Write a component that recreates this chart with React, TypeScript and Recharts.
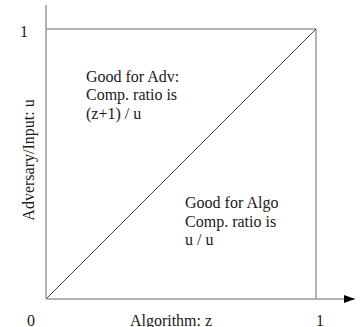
import React from 'react';
import { ComposedChart, Line, XAxis, YAxis, ReferenceLine, ReferenceDot } from 'recharts';

const zValues = [0, 1];
const uValues = [0, 1];
const xTicks = [0, 1];
const yTicks = [1];
const xDomainMax = 1.1444;
const yDomainMax = 1.0889;
const advLines = ['Good for Adv:', 'Comp. ratio is', '(z+1) / u'];
const algoLines = ['Good for Algo', 'Comp. ratio is', 'u / u'];
const advAnchor = { z: 0.148, u: 0.804 };
const algoAnchor = { z: 0.515, u: 0.337 };

const data = zValues.map((z, i) => ({ z, u: uValues[i] }));

const FONT = '"Liberation Serif", "Times New Roman", serif';
const AXIS = '#9a9a9a';
const TEXT = '#1a1a1a';

const XTick = (props: any) => {
  const { x, y, payload } = props;
  const isZero = payload.value === 0;
  return (
    <text x={isZero ? x - 15 : x + 4} y={y + 19} textAnchor="middle" fontFamily={FONT} fontSize={16} fill={TEXT}>
      {payload.value}
    </text>
  );
};

const YTick = (props: any) => {
  const { x, y, payload } = props;
  return (
    <text x={x - 14} y={y + 8} textAnchor="middle" fontFamily={FONT} fontSize={16} fill={TEXT}>
      {payload.value}
    </text>
  );
};

const multiLine = (lines: string[], spacing: number) => (props: any) => {
  const { viewBox } = props;
  return (
    <text fontFamily={FONT} fontSize={16} fill={TEXT}>
      {lines.map((l, i) => (
        <tspan key={i} x={viewBox.x} y={viewBox.y + i * spacing}>{l}</tspan>
      ))}
    </text>
  );
};

const Arrow = (props: any) => {
  const { cx, cy } = props;
  return <polygon points={`${cx},${cy} ${cx - 11},${cy - 4} ${cx - 11},${cy + 4}`} fill="#000" />;
};

export default function App() {
  return (
    <div style={{ position: 'absolute', left: 0, top: 0, background: '#fff' }}>
      <ComposedChart width={360} height={327} data={data} margin={{ top: 5, right: 5, bottom: 0, left: 0 }}>
        <XAxis
          dataKey="z"
          type="number"
          domain={[0, xDomainMax]}
          ticks={xTicks}
          tickLine={false}
          axisLine={{ stroke: AXIS, strokeWidth: 1.5 }}
          tick={<XTick />}
          height={28}
          label={{
            content: () => (
              <text x={171} y={326} textAnchor="middle" fontFamily={FONT} fontSize={16} fill={TEXT}>Algorithm: z</text>
            ),
          }}
        />
        <YAxis
          type="number"
          domain={[0, yDomainMax]}
          ticks={yTicks}
          tickLine={false}
          axisLine={{ stroke: AXIS, strokeWidth: 1.5 }}
          tick={<YTick />}
          width={46}
          label={{
            content: () => (
              <text x={34} y={160} transform="rotate(-90, 34, 160)" textAnchor="middle" fontFamily={FONT} fontSize={16} fill={TEXT}>Adversary/Input: u</text>
            ),
          }}
        />
        <ReferenceLine segment={[{ x: 0, y: 1 }, { x: 1, y: 1 }]} stroke={AXIS} strokeWidth={1.5} />
        <ReferenceLine segment={[{ x: 1, y: 0 }, { x: 1, y: 1 }]} stroke={AXIS} strokeWidth={1.5} />
        <Line dataKey="u" stroke="#444" strokeWidth={1} dot={false} isAnimationActive={false} />
        <ReferenceDot x={advAnchor.z} y={advAnchor.u} r={0} stroke="none" label={{ content: multiLine(advLines, 18.5) }} />
        <ReferenceDot x={algoAnchor.z} y={algoAnchor.u} r={0} stroke="none" label={{ content: multiLine(algoLines, 18.5) }} />
        <ReferenceDot x={xDomainMax} y={0} r={0} shape={<Arrow />} ifOverflow="visible" />
      </ComposedChart>
    </div>
  );
}
